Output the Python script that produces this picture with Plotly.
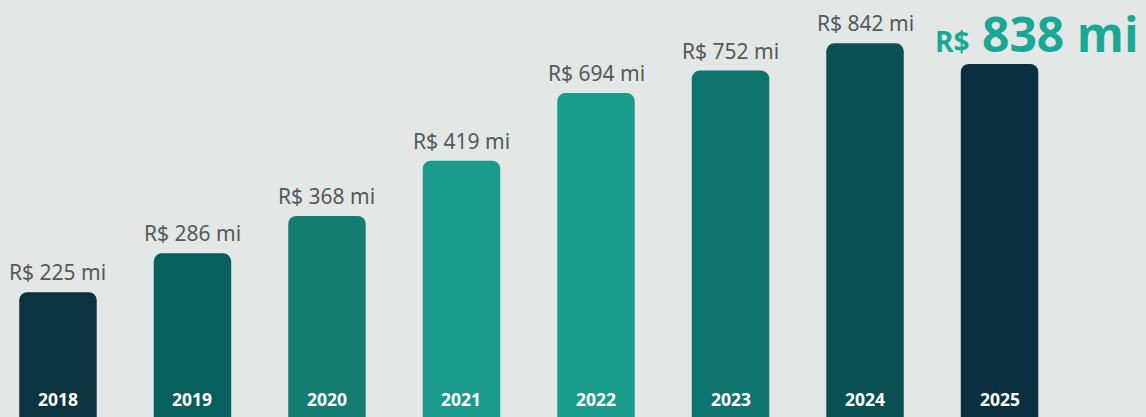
import plotly.graph_objects as go

# Dados do gráfico
anos = ['2018', '2019', '2020', '2021', '2022', '2023', '2024', '2025']
valores = [225, 286, 368, 419, 694, 752, 842, 838]  # R$ milhões (rótulos)
# altura visual das barras no original (índice, 2024 = 100) - não é proporcional aos valores
altura_barras = [33.4, 43.8, 53.8, 68.6, 86.7, 92.7, 100, 94.5]

cores = {
    'fundo': '#e3e7e6',
    'texto': '#555a5a',
    'destaque': '#1aa896',
}
cores_barras = ['#0b3440', '#07605d', '#137d71', '#1a9b8b', '#1a9c8d', '#10746e', '#0b5053', '#0a3040']

fig = go.Figure()

fig.add_trace(go.Bar(
    x=anos, y=altura_barras,
    marker=dict(color=cores_barras, cornerradius=8, line=dict(width=0)),
    width=0.576,
    hoverinfo='skip',
))

# rótulos de valor acima das barras
for i, (v, h) in enumerate(zip(valores[:-1], altura_barras[:-1])):
    fig.add_annotation(x=i, y=h, text='R$ %d mi' % v, showarrow=False,
                       yanchor='bottom', yshift=4,
                       font=dict(family='Noto Sans', size=21, color=cores['texto']))

# último ano em destaque
fig.add_annotation(x=len(anos) - 1, y=altura_barras[-1],
                   text='<b><span style="font-size:28px">R$</span> %d mi</b>' % valores[-1],
                   showarrow=False, yanchor='bottom', xshift=37, yshift=-4,
                   font=dict(family='Open Sans', size=48, color=cores['destaque']))

# anos dentro das barras
for i, ano in enumerate(anos):
    fig.add_annotation(x=i, y=0, text='<b>%s</b>' % ano, showarrow=False,
                       yanchor='bottom', yshift=4,
                       font=dict(family='Open Sans', size=17.5, color='white'))

eixo = dict(showgrid=False, zeroline=False, showline=False, showticklabels=False, ticks='')
fig.update_layout(
    width=1146, height=417,
    margin=dict(l=0, r=0, t=0, b=0),
    paper_bgcolor=cores['fundo'], plot_bgcolor=cores['fundo'],
    showlegend=False,
    xaxis=dict(type='category', range=[-0.431, 8.089], **eixo),
    yaxis=dict(range=[0, 111.6], **eixo),
)

fig.write_html("out.html", config={'displayModeBar': False},
               post_script="document.body.style.margin='0';")
